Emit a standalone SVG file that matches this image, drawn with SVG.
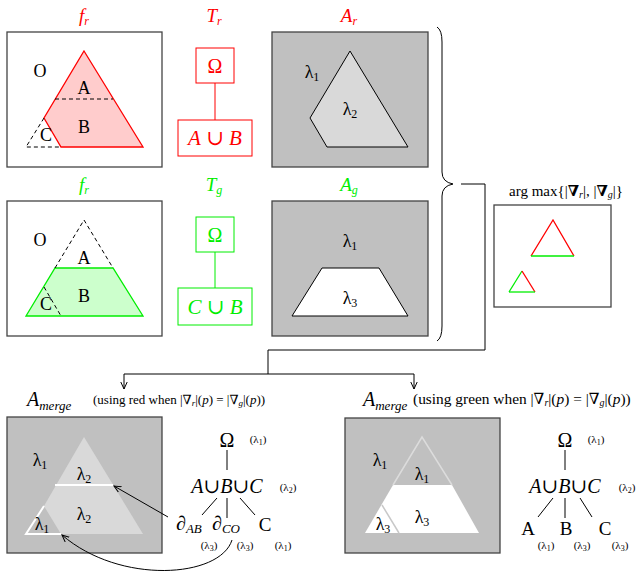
<svg xmlns="http://www.w3.org/2000/svg" width="640" height="577" viewBox="0 0 640 577" font-family="'Liberation Serif', 'DejaVu Serif', 'Times New Roman', serif">
<defs>
<style>
text{font-family:'Liberation Serif','DejaVu Serif','Times New Roman',serif;fill:#000}
.lbl{font-size:18px;text-anchor:middle}
.it{font-style:italic}
.title{font-size:19px;font-style:italic;text-anchor:middle}
.red{fill:#ff0000}
.grn{fill:#00ee00}
.sub{font-size:12px}
.sm{font-size:11px;text-anchor:middle}
.ss{font-size:8px}
.frame{fill:#fff;stroke:#444;stroke-width:1.3}
.gframe{fill:#c0c0c0;stroke:#444;stroke-width:1.3}
.dash{fill:none;stroke:#000;stroke-width:1;stroke-dasharray:4,3}
.ln{fill:none;stroke:#000;stroke-width:1}
</style>
<marker id="ah" markerWidth="8" markerHeight="8" refX="7" refY="4" orient="auto" markerUnits="userSpaceOnUse">
<path d="M0,0.8 L7,4 L0,7.2" fill="none" stroke="#000" stroke-width="1"/>
</marker>
</defs>

<g id="fr-red">
<text x="84" y="22" class="title red">f<tspan class="sub" dy="3">r</tspan></text>
<rect x="7" y="32" width="155" height="135" class="frame"/>
<polygon points="84,51 143,147 61,147 44,118" fill="#ffcccc" stroke="#ff0000" stroke-width="1.3"/>
<line x1="55" y1="99" x2="113" y2="99" class="dash"/>
<polyline points="44,118 26,147 61,147" class="dash"/>
<text x="40" y="77" class="lbl">O</text>
<text x="84" y="94" class="lbl">A</text>
<text x="84" y="133" class="lbl">B</text>
<text x="46" y="141" class="lbl">C</text>
</g>

<g id="tr">
<text x="214" y="22" class="title red">T<tspan class="sub" dy="3">r</tspan></text>
<rect x="196" y="48" width="38" height="35" fill="#fff" stroke="#ff0000" stroke-width="1"/>
<text x="215" y="73" class="lbl red" style="font-size:20px">Ω</text>
<line x1="215" y1="83" x2="215" y2="120" stroke="#ff0000" stroke-width="1"/>
<rect x="178" y="120" width="74" height="36" fill="#fff" stroke="#ff0000" stroke-width="1"/>
<text x="215" y="145" class="lbl red" style="font-size:21px"><tspan class="it">A</tspan> ∪ <tspan class="it">B</tspan></text>
</g>

<g id="ar">
<text x="349" y="22" class="title red">A<tspan class="sub" dy="3">r</tspan></text>
<rect x="272" y="32" width="156" height="135" class="gframe"/>
<polygon points="350,51 408,147 327,147 310,118" fill="#d9d9d9" stroke="#000" stroke-width="1"/>
<text x="312" y="78" class="lbl">λ<tspan class="sub" dy="3">1</tspan></text>
<text x="350" y="115" class="lbl">λ<tspan class="sub" dy="3">2</tspan></text>
</g>

<g id="fr-green">
<text x="84" y="191" class="title grn">f<tspan class="sub" dy="3">r</tspan></text>
<rect x="7" y="201" width="155" height="135" class="frame"/>
<polygon points="55,268 113,268 143,316 26,316" fill="#ccffcc" stroke="#00ee00" stroke-width="1.3"/>
<polyline points="55,268 84,220 113,268" class="dash"/>
<line x1="44" y1="287" x2="61" y2="316" class="dash"/>
<text x="40" y="246" class="lbl">O</text>
<text x="84" y="264" class="lbl">A</text>
<text x="84" y="302" class="lbl">B</text>
<text x="46" y="310" class="lbl">C</text>
</g>

<g id="tg">
<text x="214" y="191" class="title grn">T<tspan class="sub" dy="3">g</tspan></text>
<rect x="196" y="217" width="38" height="35" fill="#fff" stroke="#00ee00" stroke-width="1"/>
<text x="215" y="242" class="lbl grn" style="font-size:20px">Ω</text>
<line x1="215" y1="252" x2="215" y2="288" stroke="#00ee00" stroke-width="1"/>
<rect x="178" y="288" width="74" height="37" fill="#fff" stroke="#00ee00" stroke-width="1"/>
<text x="215" y="314" class="lbl grn" style="font-size:21px"><tspan class="it">C</tspan> ∪ <tspan class="it">B</tspan></text>
</g>

<g id="ag">
<text x="349" y="191" class="title grn">A<tspan class="sub" dy="3">g</tspan></text>
<rect x="272" y="201" width="156" height="135" class="gframe"/>
<polygon points="322,268 379,268 408,316 292,316" fill="#fff" stroke="#000" stroke-width="1"/>
<text x="350" y="247" class="lbl">λ<tspan class="sub" dy="3">1</tspan></text>
<text x="350" y="304" class="lbl">λ<tspan class="sub" dy="3">3</tspan></text>
</g>

<g id="argmax">
<text x="566" y="196" style="font-size:15px;text-anchor:middle">arg max{|<tspan font-weight="bold">∇</tspan><tspan class="it" style="font-size:10px" dy="2">r</tspan><tspan dy="-2">|, |</tspan><tspan font-weight="bold">∇</tspan><tspan class="it" style="font-size:10px" dy="2">g</tspan><tspan dy="-2">|}</tspan></text>
<rect x="494" y="205" width="117" height="102" class="frame"/>
<polyline points="531,256 553,220 574,256" fill="none" stroke="#ff0000" stroke-width="1.3"/>
<line x1="531" y1="256" x2="574" y2="256" stroke="#00ee00" stroke-width="1.3"/>
<line x1="509" y1="292" x2="522" y2="271" stroke="#00ee00" stroke-width="1.3"/>
<line x1="522" y1="271" x2="535" y2="292" stroke="#ff0000" stroke-width="1.3"/>
<line x1="509" y1="292" x2="535" y2="292" stroke="#00ee00" stroke-width="1.3"/>
</g>

<g id="merge-red">
<text x="27" y="406" style="font-size:20px" class="it">A<tspan style="font-size:13px" dy="4">merge</tspan></text>
<text x="93" y="404" style="font-size:13px">(using red when |∇<tspan class="it" style="font-size:9px" dy="2">r</tspan><tspan dy="-2">|(</tspan><tspan class="it">p</tspan>) = |∇<tspan class="it" style="font-size:9px" dy="2">g</tspan><tspan dy="-2">|(</tspan><tspan class="it">p</tspan>))</text>
<rect x="7" y="417" width="155" height="136" class="gframe"/>
<polygon points="84,437 143,534 61,534 44,506" fill="#d9d9d9"/>
<line x1="55" y1="485" x2="113" y2="485" stroke="#fff" stroke-width="2"/>
<polyline points="44,506 26,534 61,534" fill="none" stroke="#fff" stroke-width="2"/>
<text x="40" y="466" class="lbl">λ<tspan class="sub" dy="3">1</tspan></text>
<text x="84" y="480" class="lbl">λ<tspan class="sub" dy="3">2</tspan></text>
<text x="84" y="520" class="lbl">λ<tspan class="sub" dy="3">2</tspan></text>
<text x="42" y="530" class="lbl">λ<tspan class="sub" dy="3">1</tspan></text>
</g>

<g id="tree-red">
<text x="227" y="447" class="lbl" style="font-size:20px">Ω</text>
<text x="258" y="443" class="sm">(λ<tspan class="ss" dy="2">1</tspan><tspan dy="-2">)</tspan></text>
<text x="227" y="493" class="lbl it" style="font-size:20px">A∪B∪C</text>
<text x="288" y="491" class="sm">(λ<tspan class="ss" dy="2">2</tspan><tspan dy="-2">)</tspan></text>
<text x="176" y="530" style="font-size:20px" class="it">∂<tspan style="font-size:13px" dy="3">AB</tspan></text>
<text x="212" y="530" style="font-size:20px" class="it">∂<tspan style="font-size:13px" dy="3">CO</tspan></text>
<text x="265" y="531" class="lbl" style="font-size:19px">C</text>
<text x="209" y="549" class="sm">(λ<tspan class="ss" dy="2">3</tspan><tspan dy="-2">)</tspan></text>
<text x="245" y="549" class="sm">(λ<tspan class="ss" dy="2">3</tspan><tspan dy="-2">)</tspan></text>
<text x="283" y="549" class="sm">(λ<tspan class="ss" dy="2">1</tspan><tspan dy="-2">)</tspan></text>
</g>

<g id="merge-green">
<text x="363" y="406" style="font-size:20px" class="it">A<tspan style="font-size:13px" dy="4">merge</tspan></text>
<text x="413" y="404" style="font-size:15.4px">(using green when |∇<tspan class="it" style="font-size:10px" dy="2">r</tspan><tspan dy="-2">|(</tspan><tspan class="it">p</tspan>) = |∇<tspan class="it" style="font-size:10px" dy="2">g</tspan><tspan dy="-2">|(</tspan><tspan class="it">p</tspan>))</text>
<rect x="345" y="418" width="155" height="135" class="gframe"/>
<polygon points="393,485 452,485 479,533 365,533" fill="#fff"/>
<polyline points="393,485 422,437 452,485" fill="none" stroke="#dcdcdc" stroke-width="1.5"/>
<line x1="382" y1="505" x2="399" y2="533" stroke="#c8c8c8" stroke-width="1.5"/>
<text x="380" y="466" class="lbl">λ<tspan class="sub" dy="3">1</tspan></text>
<text x="422" y="480" class="lbl">λ<tspan class="sub" dy="3">1</tspan></text>
<text x="422" y="523" class="lbl">λ<tspan class="sub" dy="3">3</tspan></text>
<text x="383" y="530" class="lbl">λ<tspan class="sub" dy="3">3</tspan></text>
</g>

<g id="tree-green">
<text x="565" y="447" class="lbl" style="font-size:20px">Ω</text>
<text x="596" y="443" class="sm">(λ<tspan class="ss" dy="2">1</tspan><tspan dy="-2">)</tspan></text>
<text x="565" y="493" class="lbl it" style="font-size:20px">A∪B∪C</text>
<text x="627" y="491" class="sm">(λ<tspan class="ss" dy="2">2</tspan><tspan dy="-2">)</tspan></text>
<text x="528" y="535" class="lbl" style="font-size:19px">A</text>
<text x="566" y="535" class="lbl" style="font-size:19px">B</text>
<text x="605" y="535" class="lbl" style="font-size:19px">C</text>
<text x="546" y="549" class="sm">(λ<tspan class="ss" dy="2">1</tspan><tspan dy="-2">)</tspan></text>
<text x="582" y="549" class="sm">(λ<tspan class="ss" dy="2">3</tspan><tspan dy="-2">)</tspan></text>
<text x="620" y="549" class="sm">(λ<tspan class="ss" dy="2">3</tspan><tspan dy="-2">)</tspan></text>
</g>

<g id="connectors">
<path d="M437,27 Q442,30 442,42 L442,172 Q442,182 453,184 Q442,186 442,196 L442,326 Q442,338 437,341" class="ln"/>
<polyline points="461,184 485,184 485,350 268,350 268,374" class="ln"/>
<line x1="124" y1="374" x2="414" y2="374" class="ln"/>
<line x1="124" y1="374" x2="124" y2="389" class="ln" marker-end="url(#ah)"/>
<line x1="414" y1="374" x2="414" y2="389" class="ln" marker-end="url(#ah)"/>
<line x1="227" y1="450" x2="227" y2="470" class="ln"/>
<line x1="217" y1="498" x2="202" y2="515" class="ln"/>
<line x1="227" y1="498" x2="227" y2="518" class="ln"/>
<line x1="240" y1="498" x2="255" y2="515" class="ln"/>
<line x1="565" y1="450" x2="565" y2="470" class="ln"/>
<line x1="553" y1="498" x2="538" y2="517" class="ln"/>
<line x1="565" y1="498" x2="565" y2="518" class="ln"/>
<line x1="580" y1="498" x2="592" y2="517" class="ln"/>
<line x1="168" y1="517" x2="114" y2="486" class="ln" marker-end="url(#ah)"/>
<path d="M232,540 C220,578 120,585 62,535" class="ln" marker-end="url(#ah)"/>
</g>
</svg>
